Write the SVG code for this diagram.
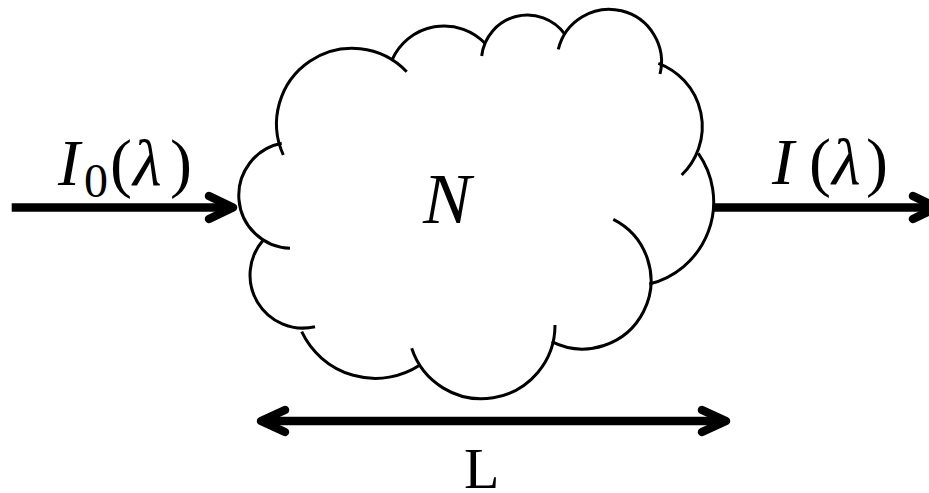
<svg xmlns="http://www.w3.org/2000/svg" width="929" height="493" viewBox="0 0 929 493">
<style>
.cloud{fill:none;stroke:#000;stroke-width:3;stroke-linecap:butt}
.conn{fill:none;stroke:#000;stroke-width:8.5}
.head{fill:none;stroke:#000;stroke-width:8.5;stroke-linecap:round;stroke-linejoin:round}
.m{font-family:"Liberation Serif","Times New Roman",serif;fill:#000}
.it{font-style:italic}
</style>
<rect width="929" height="493" fill="#fff"/>
<g id="cloud">
<path class="cloud" d="M283.3,155 A75.5,75.5 0 0 1 406.7,71.7"/>
<path class="cloud" d="M392.3,59.3 A56.9,56.9 0 0 1 485,43.3"/>
<path class="cloud" d="M481.7,56 A46.1,46.1 0 0 1 565,34.3"/>
<path class="cloud" d="M558.3,49.3 A51.5,51.5 0 0 1 660,74"/>
<path class="cloud" d="M658.3,63.3 A67.4,67.4 0 0 1 681.7,175"/>
<path class="cloud" d="M698.3,153.3 A84.5,84.5 0 0 1 649.3,284"/>
<path class="cloud" d="M613.3,219.3 A68.5,68.5 0 0 1 551.7,341.7"/>
<path class="cloud" d="M555,325 A73.5,73.5 0 0 1 411.7,348.3"/>
<path class="cloud" d="M420,365 A81.4,81.4 0 0 1 301.7,331.7"/>
<path class="cloud" d="M315,326.7 A53,53 0 0 1 263.3,240"/>
<path class="cloud" d="M290,248.3 A53,53 0 0 1 281.7,143.3"/>
<text class="m it" x="423" y="223" font-size="72">N</text>
</g>
<g id="connectors">
<path class="conn" d="M11.7,207.5 H231"/>
<path class="head" d="M209,196 L233,207.5 L209,219"/>
<path class="conn" d="M713,207.5 H933"/>
<path class="head" d="M913,196 L937,207.5 L913,219"/>
<path class="conn" d="M262,421 H725"/>
<path class="head" d="M285,410 L261,421 L285,432"/>
<path class="head" d="M702,410 L726,421 L702,432"/>
</g>
<g id="label-in">
<text class="m" y="185" font-size="66"><tspan class="it" x="58">I</tspan><tspan x="84" y="197" font-size="48">0</tspan><tspan x="110" y="185">(</tspan><tspan class="it" x="133">λ</tspan><tspan x="170">)</tspan></text>
</g>
<g id="label-out">
<text class="m" y="184" font-size="66"><tspan class="it" x="772">I</tspan><tspan x="809">(</tspan><tspan class="it" x="832">λ</tspan><tspan x="866">)</tspan></text>
</g>
<g id="label-L">
<text class="m" x="464" y="488" font-size="58">L</text>
</g>
</svg>
